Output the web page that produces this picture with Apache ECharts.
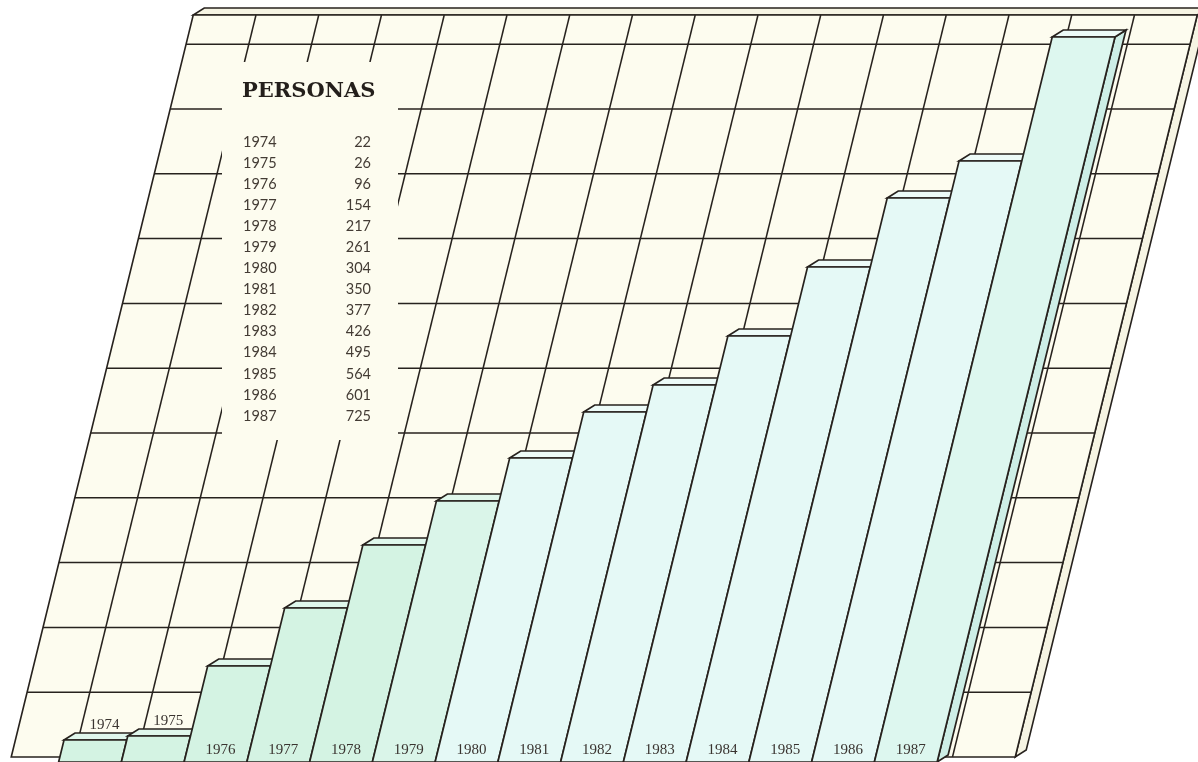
<!DOCTYPE html>
<html>
<head>
<meta charset="utf-8">
<script src="https://cdn.jsdelivr.net/npm/echarts@6/dist/echarts.min.js"></script>
<style>
html,body{margin:0;padding:0;background:#ffffff;}
#chart{width:1198px;height:762px;}
</style>
</head>
<body>
<div id="chart"></div>
<script>
// ---- data ----
const years = ['1974','1975','1976','1977','1978','1979','1980','1981','1982','1983','1984','1985','1986','1987'];
const personas = [22, 26, 96, 154, 217, 261, 304, 350, 377, 426, 495, 564, 601, 725];
const tableTitle = 'PERSONAS';

// ---- layout / style constants ----
const W = 1198, H = 762;
const SHEAR = 0.2453;          // horizontal px per px of height
const DEPTH = [11, -7];        // 3D depth offset
const UNIT = 62.75;            // px per category
const X0 = 90;                 // px centre of first bar at base
const BOARD_L = -1.275, BOARD_R = 14.725;   // in category units
const BOARD_B = 5, BOARD_T = 747;           // in value units
const ROW = 64.8;
const LINE = '#27221e';
const BOARD_FILL = '#fdfcef';

function barFill(i){
  if (i <= 4) return '#d4f3e3';
  if (i === 5) return '#daf5e9';
  if (i === 13) return '#ddf7ef';
  return '#e5f9f6';
}
function topFill(i){
  if (i <= 5) return '#e0f7ec';
  return '#edfbf8';
}

function mkPt(api){
  return function(u, v){
    const base = api.coord([u, 0]);
    const p = api.coord([u, v]);
    return [base[0] + SHEAR * (base[1] - p[1]), p[1]];
  };
}
function add(p, d){ return [p[0] + d[0], p[1] + d[1]]; }

const chart = echarts.init(document.getElementById('chart'), null, {renderer: 'canvas'});

const boardSeries = {
  type: 'custom',
  z: 1,
  silent: true,
  data: [[0, 0]],
  renderItem: function(params, api){
    const pt = mkPt(api);
    const children = [];
    const bl = pt(BOARD_L, BOARD_B), br = pt(BOARD_R, BOARD_B);
    const tl = pt(BOARD_L, BOARD_T), tr = pt(BOARD_R, BOARD_T);
    children.push({type:'polygon', shape:{points:[br, tr, add(tr, DEPTH), add(br, DEPTH)]},
      style:{fill:'#f6f4e3', stroke:LINE, lineWidth:1.6}});
    children.push({type:'polygon', shape:{points:[tl, tr, add(tr, DEPTH), add(tl, DEPTH)]},
      style:{fill:'#f6f4e3', stroke:LINE, lineWidth:1.6}});
    children.push({type:'polygon', shape:{points:[bl, br, tr, tl]},
      style:{fill:BOARD_FILL, stroke:LINE, lineWidth:1.6}});
    for (let k = 1; k <= 11; k++) {
      const v = BOARD_B + ROW * k;
      const a = pt(BOARD_L, v), b = pt(BOARD_R, v);
      children.push({type:'line', shape:{x1:a[0], y1:a[1], x2:b[0], y2:b[1]},
        style:{stroke:LINE, lineWidth:1.5}});
    }
    for (let k = 1; k < 16; k++) {
      const a = pt(BOARD_L + k, BOARD_B), b = pt(BOARD_L + k, BOARD_T);
      children.push({type:'line', shape:{x1:a[0], y1:a[1], x2:b[0], y2:b[1]},
        style:{stroke:LINE, lineWidth:1.5}});
    }
    children.push({type:'rect', shape:{x:222, y:62, width:176, height:378},
      style:{fill:BOARD_FILL}});
    return {type:'group', children: children};
  }
};

const barSeries = {
  type: 'custom',
  z: 2,
  silent: true,
  data: personas.map(function(v, i){ return [i, v]; }),
  renderItem: function(params, api){
    const pt = mkPt(api);
    const i = api.value(0), v = api.value(1);
    const bl = pt(i - 0.5, 0), br = pt(i + 0.5, 0);
    const tl = pt(i - 0.5, v), tr = pt(i + 0.5, v);
    const children = [];
    children.push({type:'polygon', shape:{points:[br, tr, add(tr, DEPTH), add(br, DEPTH)]},
      style:{fill:'#cdeee6', stroke:LINE, lineWidth:1.7}});
    children.push({type:'polygon', shape:{points:[tl, tr, add(tr, DEPTH), add(tl, DEPTH)]},
      style:{fill:topFill(i), stroke:LINE, lineWidth:1.7}});
    children.push({type:'polygon', shape:{points:[bl, br, tr, tl]},
      style:{fill:barFill(i), stroke:LINE, lineWidth:1.7}});
    let lp;
    if (v < 60) {
      lp = pt(i, v);
      lp = [lp[0] + 9, lp[1] - 15];
    } else {
      lp = pt(i, 12);
      lp = [lp[0] + 2, lp[1]];
    }
    children.push({type:'text', x: lp[0], y: lp[1],
      style:{text: years[i], fill:'#3a3430', font:'15px "Liberation Serif"', align:'center', verticalAlign:'middle'}});
    return {type:'group', children: children};
  }
};

const tableGraphics = [{
  type:'text', x:242, y:92, z:10,
  style:{text: tableTitle, fill:'#241f1b', font:'bold 21px "DejaVu Serif"', verticalAlign:'middle'}
}];
years.forEach(function(y, i){
  tableGraphics.push({type:'text', x:243, y:142 + i * 21.08, z:10,
    style:{text:y, fill:'#433b34', font:'14.5px Lato', align:'left', verticalAlign:'middle'}});
  tableGraphics.push({type:'text', x:371, y:142 + i * 21.08, z:10,
    style:{text:String(personas[i]), fill:'#433b34', font:'14.5px Lato', align:'right', verticalAlign:'middle'}});
});

chart.setOption({
  animation: false,
  backgroundColor: '#ffffff',
  grid: {left:0, right:0, top:0, bottom:0},
  xAxis: {type:'value', min: -X0 / UNIT, max: (W - X0) / UNIT, show:false},
  yAxis: {type:'value', min: 0, max: H, show:false},
  series: [boardSeries, barSeries],
  graphic: tableGraphics
});
</script>
</body>
</html>
